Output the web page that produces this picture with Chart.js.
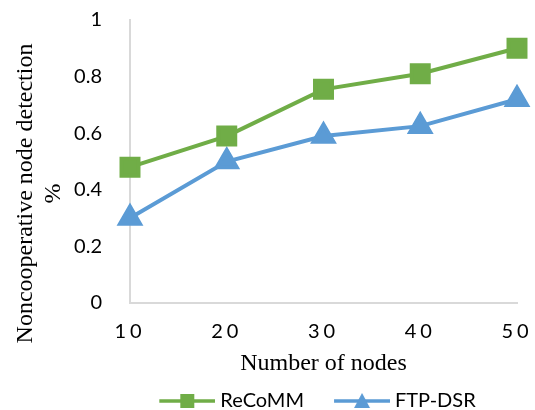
<!DOCTYPE html>
<html>
<head>
<meta charset="utf-8">
<script src="https://cdn.jsdelivr.net/npm/chart.js@4.4.0/dist/chart.umd.min.js"></script>
<style>
  html, body { margin: 0; padding: 0; background: #fff; }
  #wrap { width: 535px; height: 410px; }
</style>
</head>
<body>
<div id="wrap"><canvas id="myChart" width="535" height="410"></canvas></div>
<script>
const nodes = ['10', '20', '30', '40', '50'];
const recommValues = [0.48, 0.59, 0.755, 0.81, 0.90];
const ftpDsrValues = [0.30, 0.50, 0.59, 0.625, 0.72];
const seriesNames = ['ReCoMM', 'FTP-DSR'];

const green = '#70AD47';
const blue = '#5B9BD5';
const tickFont = { family: 'Lato, "Liberation Sans", sans-serif', size: 20 };
const serif = '"Liberation Serif", "Times New Roman", serif';

// legend icon: a short line with the marker in the middle, like the office charts do
// (empty strip on the left so the two entries sit further apart)
function legendIcon(color, shape) {
    const m = 22;
    const c = document.createElement('canvas');
    c.width = 56 + m;
    c.height = 18;
    const g = c.getContext('2d');
    g.strokeStyle = color;
    g.lineWidth = 3.5;
    g.beginPath();
    g.moveTo(m, 9);
    g.lineTo(m + 56, 9);
    g.stroke();
    g.fillStyle = color;
    if (shape === 'rect') {
        g.fillRect(m + 21, 2, 14, 14);
    } else {
        g.beginPath();
        g.moveTo(m + 28, 1);
        g.lineTo(m + 36, 16);
        g.lineTo(m + 20, 16);
        g.closePath();
        g.fill();
    }
    return c;
}

// small tweaks: spaced x digits, y title a bit below the plot centre, legend under the plot
function wrapDraw(obj, name, fn) {
    const orig = obj[name].bind(obj);
    obj[name] = function (...args) {
        const c = obj.ctx;
        c.save();
        fn(c);
        orig(...args);
        c.restore();
    };
}

const axisTweaks = {
    id: 'axisTweaks',
    afterUpdate(chart) {
        const sx = chart.scales.x;
        if (sx && !sx._tweaked) {
            wrapDraw(sx, 'drawLabels', c => { c.letterSpacing = '4px'; });
            sx._tweaked = true;
        }
        const sy = chart.scales.y;
        if (sy && !sy._tweaked) {
            wrapDraw(sy, 'drawTitle', c => c.translate(0, 32));
            sy._tweaked = true;
        }
        const lg = chart.legend;
        if (lg && !lg._tweaked) {
            wrapDraw(lg, 'draw', c => c.translate(45, 0));
            lg._tweaked = true;
        }
    }
};

const ctx = document.getElementById('myChart').getContext('2d');

const chart = new Chart(ctx, {
    type: 'line',
    data: {
        labels: nodes,
        datasets: [
            {
                label: seriesNames[0],
                data: recommValues,
                borderColor: green,
                backgroundColor: green,
                borderWidth: 4,
                pointStyle: 'rect',
                pointRadius: 12,
                pointHoverRadius: 12,
                tension: 0
            },
            {
                label: seriesNames[1],
                data: ftpDsrValues,
                borderColor: blue,
                backgroundColor: blue,
                borderWidth: 4,
                pointStyle: 'triangle',
                pointRadius: 11.5,
                pointHoverRadius: 11.5,
                tension: 0
            }
        ]
    },
    options: {
        responsive: false,
        animation: false,
        layout: { padding: { top: 20, right: 18, left: 11, bottom: -11 } },
        scales: {
            x: {
                offset: false,
                grid: { display: false },
                border: { display: true, color: '#D9D9D9', width: 2 },
                ticks: { color: '#000', font: tickFont, padding: 9, maxRotation: 0 },
                title: {
                    display: true,
                    text: 'Number of nodes',
                    color: '#000',
                    font: { family: serif, size: 24 },
                    padding: { top: 0, bottom: 0 }
                },
                afterFit(scale) {
                    scale.height = 75;
                    scale.paddingRight = 0;
                    scale.paddingLeft = 0;
                }
            },
            y: {
                min: 0,
                max: 1,
                grid: { display: false },
                border: { display: true, color: '#D9D9D9', width: 2 },
                ticks: {
                    stepSize: 0.2,
                    color: '#000',
                    font: tickFont,
                    padding: 20,
                    callback: v => String(+v.toFixed(1))
                },
                title: {
                    display: true,
                    text: ['Noncooperative node detection', '%'],
                    color: '#000',
                    font: { family: serif, size: 24 },
                    padding: { top: 0, bottom: 0 }
                },
                afterFit(scale) {
                    scale.width = 119;
                    scale.paddingTop = 0;
                    scale.paddingBottom = 0;
                }
            }
        },
        plugins: {
            legend: {
                position: 'bottom',
                labels: {
                    usePointStyle: true,
                    pointStyleWidth: 68,
                    color: '#000',
                    font: tickFont,
                    padding: 13,
                    generateLabels(ch) {
                        return ch.data.datasets.map((ds, i) => ({
                            text: ds.label,
                            fillStyle: ds.backgroundColor,
                            strokeStyle: ds.borderColor,
                            lineWidth: 0,
                            pointStyle: legendIcon(ds.borderColor, ds.pointStyle),
                            datasetIndex: i,
                            hidden: false
                        }));
                    }
                }
            },
            tooltip: { enabled: false }
        }
    },
    plugins: [axisTweaks]
});
</script>
</body>
</html>
